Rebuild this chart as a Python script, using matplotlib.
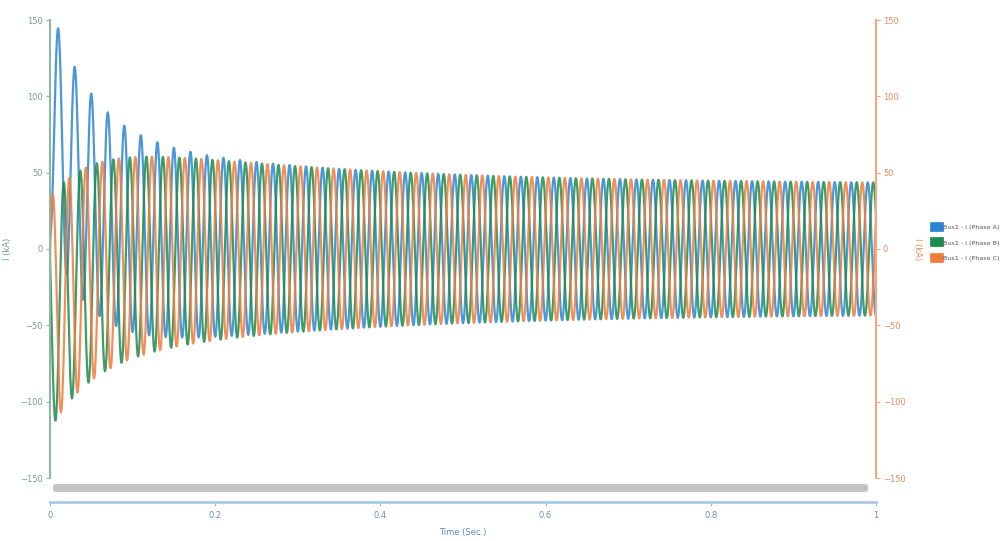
import numpy as np
import matplotlib
matplotlib.use("Agg")
import matplotlib.pyplot as plt
from matplotlib.patches import FancyBboxPatch

# fault current parameters (kA, s)
freq = 50.0
t_end = 1.0
i_ss = 42.0          # steady AC amplitude
i_slow = 20.7        # transient AC component
tau_slow = 0.38
i_fast = 13.3        # subtransient AC component
tau_fast = 0.196
dc_a = 85.0          # DC offset of phase A at t=0
tau_dc = 0.05
phase_shift = [0.0, 120.0, 240.0]
dc_share = [1.0, -0.5, -0.5]

series_names = ["Bus1 - I (Phase A)", "Bus1 - I (Phase B)", "Bus1 - I (Phase C)"]
series_colors = ["#2a86d4", "#1e8a4c", "#f07c3c"]

y_ticks = [-150, -100, -50, 0, 50, 100, 150]
x_ticks = [0, 0.2, 0.4, 0.6, 0.8, 1.0]
x_tick_labels = ["0", "0.2", "0.4", "0.6", "0.8", "1"]

t = np.linspace(0, t_end, 6001)
w = 2 * np.pi * freq
i_ac = i_ss + i_slow * np.exp(-t / tau_slow) + i_fast * np.exp(-t / tau_fast)
dc = dc_a * np.exp(-t / tau_dc)

plt.rcParams["font.family"] = ["Liberation Sans Narrow", "DejaVu Sans"]

fig = plt.figure(figsize=(10.06, 5.41), dpi=100)
ax = fig.add_axes([50 / 1006, 63 / 541, 826 / 1006, 458 / 541])

for ph, share, col, name in zip(phase_shift, dc_share, series_colors, series_names):
    i = -i_ac * np.cos(w * t - np.radians(ph)) + share * dc
    ax.plot(t, i, color=col, lw=1.6, alpha=0.85, label=name)

ax.set_xlim(0, 1)
ax.set_ylim(-150, 150)
ax.set_yticks(y_ticks)
ax.set_xticks(x_ticks)
ax.set_xticklabels(x_tick_labels)

left_col = "#8fb5a3"
ax.spines["top"].set_visible(False)
ax.spines["right"].set_visible(False)
ax.spines["left"].set_color(left_col)
ax.spines["left"].set_linewidth(1.5)
ax.spines["bottom"].set_color("#a9cbe8")
ax.spines["bottom"].set_linewidth(2)
ax.spines["bottom"].set_position(("outward", 17))
ax.tick_params(axis="y", colors=left_col, labelcolor="#7a9a8c", labelsize=6, length=3, pad=2)
ax.tick_params(axis="x", colors="#9fb7cc", labelcolor="#6f8fb3", labelsize=6, length=3)
ax.set_ylabel("I (kA)", color="#6f9a86", fontsize=6, labelpad=6)
ax.set_xlabel("Time (Sec.)", color="#5b86bd", fontsize=6, labelpad=6)

ax2 = ax.twinx()
ax2.set_ylim(-150, 150)
ax2.set_yticks(y_ticks)
for s in ["top", "left", "bottom"]:
    ax2.spines[s].set_visible(False)
ax2.spines["right"].set_color("#f4a882")
ax2.spines["right"].set_linewidth(1.5)
ax2.tick_params(axis="y", colors="#f4a882", labelcolor="#f08a55", labelsize=6, length=3, pad=2)
ax2.set_ylabel("I (kA)", color="#f08a55", fontsize=6, rotation=270, labelpad=12)

# scroll bar under the plot
bar = FancyBboxPatch((53 / 1006, 49 / 541), 815 / 1006, 8 / 541,
                     boxstyle="round,pad=0,rounding_size=0.004",
                     transform=fig.transFigure, facecolor="#c4c4c4",
                     edgecolor="none")
fig.patches.append(bar)

handles, labels = ax.get_legend_handles_labels()
leg = fig.legend(handles, labels, loc="center left", bbox_to_anchor=(935 / 1006, 1 - 243 / 541),
                 frameon=False, fontsize=4.6, handlelength=0.6, handleheight=0.9,
                 handletextpad=0.7, labelspacing=1.5, borderaxespad=0, borderpad=0)
for h in leg.legend_handles:
    h.set_linewidth(7)
    h.set_alpha(1)
for txt in leg.get_texts():
    txt.set_color("#555555")

fig.savefig("out.png", dpi=100)
